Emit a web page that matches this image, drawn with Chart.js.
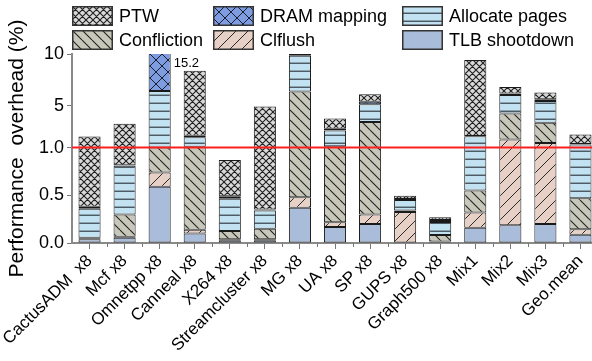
<!DOCTYPE html>
<html>
<head>
<meta charset="utf-8">
<title>Performance overhead</title>
<script src="https://cdn.jsdelivr.net/npm/chart.js@4.4.1/dist/chart.umd.min.js"></script>
<style>
  html, body { margin: 0; padding: 0; background: #fff; overflow: hidden; }
  #wrap { position: absolute; left: 0; top: 0; width: 598px; height: 361px; }
  #legend {
    position: absolute; left: 72px; top: 6px;
    display: grid; grid-template-columns: 141px 189px auto; row-gap: 4px;
    font-family: 'Liberation Sans', Arial, sans-serif; font-size: 18px; color: #000;
  }
  .item { display: flex; align-items: center; height: 20px; white-space: nowrap; }
  .item canvas { margin-right: 6px; }
</style>
</head>
<body>
<div id="wrap"><canvas id="chart"></canvas></div>
<div id="legend"></div>
<script>
// ── Data (stacked bottom → top) ──
const categories = ['CactusADM  x8', 'Mcf x8', 'Omnetpp x8', 'Canneal x8', 'X264 x8',
  'Streamcluster x8', 'MG x8', 'UA x8', 'SP x8', 'GUPS x8', 'Graph500 x8',
  'Mix1', 'Mix2', 'Mix3', 'Geo.mean'];

const tlbShootdown  = [0.04, 0.055, 0.59, 0.10, 0.03, 0.03, 0.37, 0.167, 0.20, 0.005, 0.01, 0.16, 0.185, 0.20, 0.087];
const clflush       = [0.005, 0.01, 0.15, 0.04, 0.01, 0.01, 0.11, 0.05, 0.10, 0.32, 0.005, 0.16, 1.585, 1.25, 0.056];
const confliction   = [0.01, 0.235, 0.26, 0.94, 0.085, 0.11, 5.91, 0.91, 3.15, 0.015, 0.07, 0.23, 2.52, 1.94, 0.327];
const allocatePages = [0.305, 0.51, 5.45, 0.92, 0.345, 0.19, 3.45, 1.523, 1.71, 0.11, 0.135, 1.54, 1.765, 2.09, 0.82];
const dramMapping   = [0.02, 0.005, 8.75, 0.15, 0.02, 0.01, 0.16, 0.15, 0.26, 0.01, 0.02, 0.02, 0.14, 0.17, 0.05];
const ptw           = [1.68, 2.485, 0, 6.25, 0.38, 4.59, 0, 1.0, 0.71, 0.035, 0.03, 7.31, 0.64, 0.64, 0.92];

const yTicks = [0, 0.5, 1, 5, 10];
const yTickLabels = ['0.0', '0.5', '1.0', '5', '10'];
const refLine = 1.0;

// ── Broken y axis: linear below 1, compressed above ──
const UPPER_K = 0.109;
const squash = v => v <= 1 ? v : 1 + (v - 1) * UPPER_K;
const unsquash = t => t <= 1 ? t : 1 + (t - 1) / UPPER_K;

class BrokenScale extends Chart.LinearScale {
  getPixelForValue(value) {
    return this.getPixelForDecimal(squash(value) / squash(this.max));
  }
  getValueForPixel(pixel) {
    return unsquash(this.getDecimalForPixel(pixel) * squash(this.max));
  }
}
BrokenScale.id = 'broken';
BrokenScale.defaults = Chart.LinearScale.defaults;
Chart.register(BrokenScale);

// ── Hatch patterns ──
function makePattern(bg, kind, step, line, lw) {
  const c = document.createElement('canvas');
  c.width = step; c.height = step;
  const g = c.getContext('2d');
  g.fillStyle = bg;
  g.fillRect(0, 0, step, step);
  g.strokeStyle = line;
  g.lineWidth = lw || 1;
  g.beginPath();
  if (kind === 'h') {
    g.moveTo(0, step - 0.75); g.lineTo(step, step - 0.75);
  }
  if (kind === 'back' || kind === 'cross') {
    for (const o of [-step, 0, step]) { g.moveTo(o, 0); g.lineTo(o + step, step); }
  }
  if (kind === 'fwd' || kind === 'cross') {
    for (const o of [-step, 0, step]) { g.moveTo(o, step); g.lineTo(o + step, 0); }
  }
  g.stroke();
  return kind === 'solid' ? bg : g.createPattern(c, 'repeat');
}

const fills = {
  tlb:   makePattern('#a9bcda', 'solid', 4, '#000'),
  clf:   makePattern('#e7d1c7', 'fwd', 12, '#2a2a2a', 1),
  conf:  makePattern('#c8c8ba', 'back', 10, '#222', 1.1),
  alloc: makePattern('#c3e2f1', 'h', 8, '#46545e', 1.4),
  dram:  makePattern('#7d9de0', 'cross', 12, '#1c1c30', 1),
  ptw:   makePattern('#d9d9d9', 'cross', 7, '#1e1e1e', 1.1)
};

const series = [
  { name: 'TLB shootdown',  data: tlbShootdown,  fill: fills.tlb },
  { name: 'Clflush',        data: clflush,       fill: fills.clf },
  { name: 'Confliction',    data: confliction,   fill: fills.conf },
  { name: 'Allocate pages', data: allocatePages, fill: fills.alloc },
  { name: 'DRAM mapping',   data: dramMapping,   fill: fills.dram },
  { name: 'PTW',            data: ptw,           fill: fills.ptw }
];

// ── Legend (3 columns, row-major) ──
const legendOrder = ['PTW', 'DRAM mapping', 'Allocate pages', 'Confliction', 'Clflush', 'TLB shootdown'];
const legendEl = document.getElementById('legend');
legendOrder.forEach(name => {
  const s = series.find(d => d.name === name);
  const item = document.createElement('div');
  item.className = 'item';
  const sw = document.createElement('canvas');
  sw.width = 41; sw.height = 20;
  const g = sw.getContext('2d');
  g.fillStyle = s.fill;
  g.fillRect(0, 0, 41, 20);
  g.strokeStyle = '#333';
  g.lineWidth = 1.5;
  g.strokeRect(0.75, 0.75, 39.5, 18.5);
  item.appendChild(sw);
  item.appendChild(document.createTextNode(name));
  legendEl.appendChild(item);
});

// ── Extra drawing: reference line, boundary ticks, overflow label ──
const extrasPlugin = {
  id: 'extras',
  afterDatasetsDraw(chart) {
    const { ctx, chartArea, scales } = chart;
    const xs = scales.x, ys = scales.y;
    ctx.save();
    // red reference line
    const yRef = ys.getPixelForValue(refLine);
    ctx.strokeStyle = '#ff1e1e';
    ctx.lineWidth = 2;
    ctx.beginPath();
    ctx.moveTo(chartArea.left, yRef);
    ctx.lineTo(chartArea.right, yRef);
    ctx.stroke();
    // small ticks between categories
    ctx.strokeStyle = '#777';
    ctx.lineWidth = 1;
    ctx.beginPath();
    for (let i = 1; i < categories.length; i++) {
      const bx = Math.round((xs.getPixelForTick(i - 1) + xs.getPixelForTick(i)) / 2) + 0.5;
      ctx.moveTo(bx, chartArea.bottom);
      ctx.lineTo(bx, chartArea.bottom + 4);
    }
    ctx.stroke();
    // label bars that run past the top of the axis
    const meta = chart.getDatasetMeta(0);
    ctx.fillStyle = '#000';
    ctx.font = "13px 'Liberation Sans', Arial, sans-serif";
    ctx.textBaseline = 'middle';
    categories.forEach((c, i) => {
      const total = series.reduce((a, s) => a + s.data[i], 0);
      if (total > ys.max + 1e-9) {
        const bar = meta.data[i];
        ctx.fillText(total.toFixed(1), bar.x + bar.width / 2 + 3, chartArea.top + 9);
      }
    });
    ctx.restore();
  }
};

Chart.defaults.font.family = "'Liberation Sans', Arial, sans-serif";
Chart.defaults.color = '#000';

new Chart(document.getElementById('chart'), {
  type: 'bar',
  data: {
    labels: categories,
    datasets: series.map(s => ({
      label: s.name,
      data: s.data,
      backgroundColor: s.fill,
      borderColor: '#1a1a1a',
      borderWidth: 1,
      borderSkipped: false,
      barPercentage: 0.63,
      categoryPercentage: 1
    }))
  },
  options: {
    responsive: true, maintainAspectRatio: false, animation: false,
    layout: { padding: { top: 54, left: 0, right: 0, bottom: 0 } },
    plugins: { legend: { display: false }, tooltip: { enabled: false } },
    scales: {
      x: {
        stacked: true,
        grid: { drawOnChartArea: false, offset: false, tickLength: 6, color: '#777' },
        border: { color: '#8a8a8a', width: 2 },
        ticks: { font: { size: 17 }, minRotation: 45, maxRotation: 45, autoSkip: false, padding: 2 },
        afterFit: s => { s.height = 118; }
      },
      y: {
        type: 'broken',
        stacked: true,
        min: 0, max: 10,
        afterBuildTicks: s => { s.ticks = yTicks.map(v => ({ value: v })); },
        ticks: { callback: (v, i) => yTickLabels[i], font: { size: 18 }, padding: 3 },
        grid: { drawOnChartArea: false, tickLength: 5, color: '#777' },
        border: { color: '#8a8a8a', width: 2 },
        title: { display: true, text: 'Performance  overhead (%)', font: { size: 21 }, padding: { top: 5, bottom: 0 } },
        afterFit: s => { s.width = 72; }
      }
    }
  },
  plugins: [extrasPlugin]
});
</script>
</body>
</html>
